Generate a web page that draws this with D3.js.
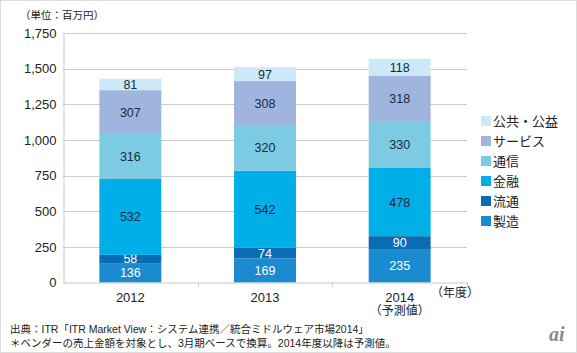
<!DOCTYPE html>
<html><head><meta charset="utf-8">
<script src="https://cdn.jsdelivr.net/npm/d3@7"></script>
<style>body{margin:0;background:#fff;}svg{display:block;font-family:"Liberation Sans","Noto Sans CJK JP",sans-serif;}</style>
</head><body><svg id="c" width="577" height="353"></svg>
<script>
const years = ["2012", "2013", "2014"];
const seriesNames = ["製造", "流通", "金融", "通信", "サービス", "公共・公益"];
const seriesColors = ["#1a8bd0", "#0a6db3", "#00aee8", "#7ccbe3", "#a0b5dd", "#cde9f7"];
const labelColors = ["#fff", "#fff", "#1a2a3a", "#1a2a3a", "#1a2a3a", "#1a2a3a"];
const manufacturing = [136, 169, 235];
const distribution = [58, 74, 90];
const finance = [532, 542, 478];
const telecom = [316, 320, 330];
const services = [307, 308, 318];
const publicSector = [81, 97, 118];
const yTicks = [0, 250, 500, 750, 1000, 1250, 1500, 1750];

(function () {
const values = [manufacturing, distribution, finance, telecom, services, publicSector];
const table = years.map((yr, i) => {
  const o = {year: yr};
  seriesNames.forEach((s, k) => o[s] = values[k][i]);
  return o;
});
const stacked = d3.stack().keys(seriesNames)(table);

const svg = d3.select("#c");
svg.append("rect").attr("x", 0.5).attr("y", 0.5).attr("width", 576).attr("height", 352)
  .attr("fill", "#fff").attr("stroke", "#dcdcdc");

const pLeft = 63, pRight = 467, pTop = 33, pBottom = 282.5;
const x = d3.scaleBand().domain(years).range([pLeft, pRight]).paddingInner(0.54).paddingOuter(0.27);
const y = d3.scaleLinear().domain([0, 1750]).range([pBottom, pTop]);

// gridlines
svg.append("g").selectAll("line").data(yTicks.filter(t => t > 0)).join("line")
  .attr("x1", pLeft).attr("x2", pRight).attr("y1", d => Math.round(y(d)) + 0.5).attr("y2", d => Math.round(y(d)) + 0.5)
  .attr("stroke", "#cccccc");

// y axis
const yAxis = d3.axisLeft(y).tickValues(yTicks).tickSize(0).tickPadding(7).tickFormat(d3.format(","));
const gy = svg.append("g").attr("transform", `translate(${pLeft + 0.5},0)`).call(yAxis);
gy.select(".domain").attr("stroke", "#c8c8c8");
gy.selectAll("text").attr("font-size", 13).attr("fill", "#222").attr("font-family", "Liberation Sans, sans-serif");

// bars
const g = svg.append("g");
stacked.forEach((layer, k) => {
  g.append("g").selectAll("rect").data(layer).join("rect")
    .attr("x", d => x(d.data.year)).attr("width", x.bandwidth())
    .attr("y", d => y(d[1])).attr("height", d => y(d[0]) - y(d[1]))
    .attr("fill", seriesColors[k]);
  g.append("g").selectAll("text").data(layer).join("text")
    .attr("x", d => x(d.data.year) + x.bandwidth() / 2)
    .attr("y", d => (y(d[0]) + y(d[1])) / 2 + 4.5)
    .attr("text-anchor", "middle").attr("font-size", 12.5).attr("fill", labelColors[k])
    .text(d => d[1] - d[0]);
});

// x axis
const xAxis = d3.axisBottom(x).tickSize(0).tickPadding(10);
const gx = svg.append("g").attr("transform", `translate(0,${pBottom})`).call(xAxis);
gx.select(".domain").attr("stroke", "#c8c8c8");
gx.selectAll("text").attr("font-size", 13).attr("fill", "#222").attr("font-family", "Liberation Sans, sans-serif");
const step = (pRight - pLeft) / years.length;
svg.append("g").selectAll("line").data(d3.range(1, years.length + 1)).join("line")
  .attr("x1", d => Math.round(pLeft + step * d) + 0.5).attr("x2", d => Math.round(pLeft + step * d) + 0.5)
  .attr("y1", pBottom).attr("y2", pBottom + 4).attr("stroke", "#c8c8c8");

svg.append("text").attr("x", x("2014") + x.bandwidth() / 2).attr("y", 315).attr("text-anchor", "middle")
  .attr("font-size", 12).attr("fill", "#222").text("（予測値）");
svg.append("text").attr("x", 455).attr("y", 297).attr("text-anchor", "middle")
  .attr("font-size", 12).attr("fill", "#222").text("（年度）");

svg.append("text").attr("x", 20).attr("y", 19).attr("font-size", 10.5).attr("fill", "#222").text("（単位：百万円）");

// legend
const legendOrder = seriesNames.map((s, k) => k).reverse();
const lg = svg.append("g");
legendOrder.forEach((k, i) => {
  const yy = 116 + i * 20;
  lg.append("rect").attr("x", 481).attr("y", yy).attr("width", 10).attr("height", 10).attr("fill", seriesColors[k]);
  lg.append("text").attr("x", 493).attr("y", yy + 10).attr("font-size", 13).attr("fill", "#222").text(seriesNames[k]);
});

// footer
svg.append("text").attr("x", 10).attr("y", 333).attr("font-size", 10.5).attr("fill", "#222")
  .text("出典：ITR「ITR Market View：システム連携／統合ミドルウェア市場2014」");
svg.append("text").attr("x", 10).attr("y", 347).attr("font-size", 10.5).attr("fill", "#222")
  .text("＊ベンダーの売上金額を対象とし、3月期ベースで換算。2014年度以降は予測値。");
svg.append("text").attr("x", 549).attr("y", 341).attr("font-size", 20).attr("font-style", "italic")
  .attr("font-weight", "bold").attr("fill", "#8a8a8a").attr("font-family", "Liberation Serif, serif").text("ai");
})();
</script></body></html>
